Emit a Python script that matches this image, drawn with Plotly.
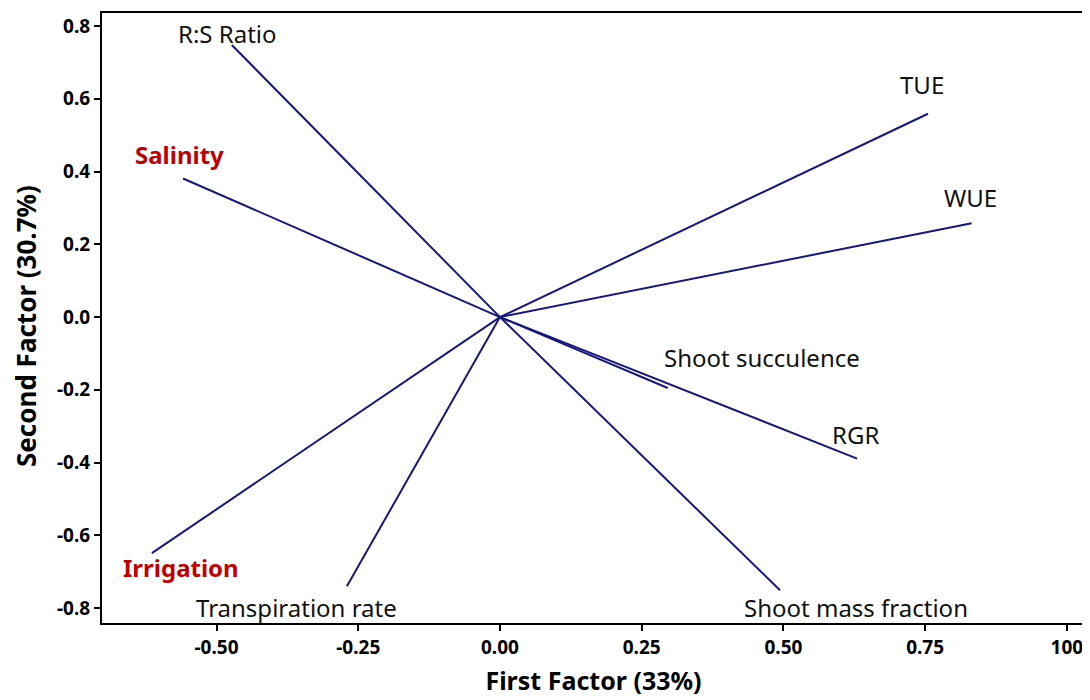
import plotly.graph_objects as go

# Loadings
variables = ["R:S Ratio", "Salinity", "TUE", "WUE", "Shoot succulence", "RGR",
             "Shoot mass fraction", "Transpiration rate", "Irrigation"]
factor1 = [-0.473, -0.559, 0.755, 0.832, 0.296, 0.630, 0.494, -0.270, -0.614]
factor2 = [0.748, 0.381, 0.559, 0.258, -0.195, -0.389, -0.751, -0.740, -0.649]
is_factor = [False, True, False, False, False, False, False, False, True]

x_tickvals = [-0.50, -0.25, 0.00, 0.25, 0.50, 0.75, 1.00]
x_ticktext = ["-0.50", "-0.25", "0.00", "0.25", "0.50", "0.75", "100"]
y_tickvals = [-0.8, -0.6, -0.4, -0.2, 0.0, 0.2, 0.4, 0.6, 0.8]
y_ticktext = ["-0.8", "-0.6", "-0.4", "-0.2", "0.0", "0.2", "0.4", "0.6", "0.8"]

# label pixel offsets from the line end (style/layout)
label_shift = {
    "R:S Ratio": (-4, 12), "Salinity": (-4, 24), "TUE": (-6, 29), "WUE": (-1, 26),
    "Shoot succulence": (94, 31), "RGR": (-2, 24), "Shoot mass fraction": (76, -17),
    "Transpiration rate": (-50, -21), "Irrigation": (29, -14),
}

LINE = "#16167c"
FONT = "Noto Sans"

fig = go.Figure()
for name, fx, fy in zip(variables, factor1, factor2):
    fig.add_trace(go.Scatter(x=[0, fx], y=[0, fy], mode="lines",
                             line=dict(color=LINE, width=2),
                             showlegend=False, hoverinfo="skip"))

for name, fx, fy, fac in zip(variables, factor1, factor2, is_factor):
    dx, dy = label_shift[name]
    if fac:
        txt = "<b>%s</b>" % name
        col = "#c00000"
    else:
        txt = name
        col = "#111111"
    fig.add_annotation(x=fx, y=fy, text=txt, showarrow=False, xshift=dx, yshift=dy,
                       font=dict(family=FONT, size=24, color=col),
                       xanchor="center", yanchor="middle")

# y-axis title as a rotated annotation
fig.add_annotation(xref="paper", yref="paper", x=0, y=0.5, xshift=-76, yshift=-8,
                   text="<b>Second Factor (30.7%)</b>", textangle=-90, showarrow=False,
                   font=dict(family=FONT, size=26, color="black"),
                   xanchor="center", yanchor="middle")

# page has an 8px body margin: figure is 8px smaller and margins shifted accordingly
fig.update_layout(
    width=1082, height=692,
    margin=dict(l=94, r=5, t=3, b=77),
    paper_bgcolor="white", plot_bgcolor="white",
    font=dict(family=FONT, color="black"),
)
fig.update_xaxes(range=[-0.702, 1.032], tickvals=x_tickvals, ticktext=x_ticktext,
                 showgrid=False, zeroline=False, showline=True, linecolor="black",
                 linewidth=2, mirror=True, ticks="outside", ticklen=6, tickwidth=2,
                 tickcolor="black",
                 tickfont=dict(family=FONT, size=19, color="black", weight="bold"),
                 title=dict(text="<b>First Factor (33%)</b>", standoff=14,
                            font=dict(family=FONT, size=25, color="black")))
fig.update_yaxes(range=[-0.841, 0.836], tickvals=y_tickvals, ticktext=y_ticktext,
                 showgrid=False, zeroline=False, showline=True, linecolor="black",
                 linewidth=2, mirror=True, ticks="outside", ticklen=6, tickwidth=2,
                 tickcolor="black",
                 tickfont=dict(family=FONT, size=19, color="black", weight="bold"))

fig.write_html("out.html")
